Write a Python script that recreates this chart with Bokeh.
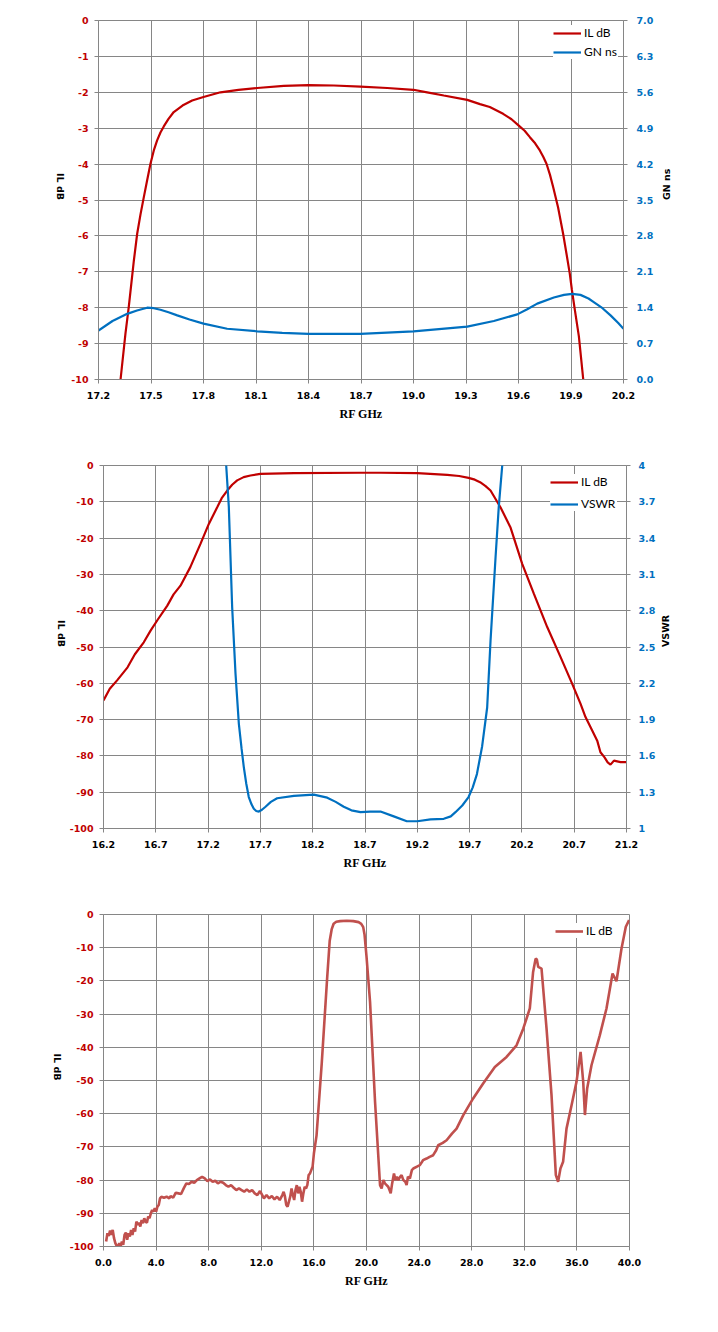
import math
from bokeh.plotting import figure
from bokeh.models import Range1d, LinearAxis, FixedTicker, NumeralTickFormatter
from bokeh.embed import file_html
from bokeh.resources import INLINE

GRID = "#868686"
RED = "#C00000"
BLUE = "#0070C0"
RED3 = "#C0504D"

# ---------------- Chart 1 data (IL dB and group delay) ----------------
c1_x_ticks = [17.2, 17.5, 17.8, 18.1, 18.4, 18.7, 19.0, 19.3, 19.6, 19.9, 20.2]
c1_left_ticks = [0, -1, -2, -3, -4, -5, -6, -7, -8, -9, -10]
c1_right_ticks = [0.0, 0.7, 1.4, 2.1, 2.8, 3.5, 4.2, 4.9, 5.6, 6.3, 7.0]

c1_il_f = [17.31, 17.326, 17.354, 17.373, 17.402, 17.421, 17.44, 17.459, 17.478, 17.497,
           17.516, 17.535, 17.554, 17.573, 17.60, 17.63, 17.68, 17.735, 17.80, 17.897,
           18.0, 18.107, 18.259, 18.40, 18.545, 18.697, 18.85, 19.0, 19.078, 19.173,
           19.307, 19.38, 19.436, 19.512, 19.56, 19.60, 19.635, 19.665, 19.695, 19.722,
           19.742, 19.76, 19.78, 19.798, 19.826, 19.855, 19.874, 19.893, 19.905, 19.92,
           19.945, 19.97, 19.985]
c1_il = [-10.6, -10.0, -8.72, -7.98, -6.69, -5.94, -5.40, -4.92, -4.45, -3.99,
         -3.62, -3.34, -3.12, -2.95, -2.74, -2.55, -2.37, -2.23, -2.13, -2.00,
         -1.93, -1.88, -1.82, -1.80, -1.81, -1.84, -1.88, -1.93, -2.00, -2.09,
         -2.21, -2.33, -2.41, -2.60, -2.75, -2.92, -3.07, -3.25, -3.42, -3.62,
         -3.80, -3.99, -4.30, -4.64, -5.20, -5.94, -6.49, -7.05, -7.50, -8.00,
         -8.80, -10.0, -10.6]

c1_gd_f = [17.2, 17.28, 17.364, 17.42, 17.478, 17.516, 17.554, 17.60, 17.65, 17.72,
           17.80, 17.935, 18.107, 18.25, 18.40, 18.697, 19.0, 19.307, 19.459, 19.593,
           19.65, 19.707, 19.802, 19.86, 19.907, 19.954, 20.0, 20.03, 20.08, 20.126,
           20.17, 20.2]
c1_gd = [0.955, 1.14, 1.28, 1.345, 1.40, 1.39, 1.36, 1.31, 1.25, 1.17,
         1.09, 0.99, 0.94, 0.91, 0.89, 0.89, 0.94, 1.03, 1.14, 1.27,
         1.37, 1.48, 1.60, 1.65, 1.67, 1.65, 1.58, 1.51, 1.39, 1.25,
         1.10, 0.99]

# ---------------- Chart 2 data (IL dB and VSWR) ----------------
c2_x_ticks = [16.2, 16.7, 17.2, 17.7, 18.2, 18.7, 19.2, 19.7, 20.2, 20.7, 21.2]
c2_left_ticks = [0, -10, -20, -30, -40, -50, -60, -70, -80, -90, -100]
c2_right_ticks = [1.0, 1.3, 1.6, 1.9, 2.2, 2.5, 2.8, 3.1, 3.4, 3.7, 4.0]

c2_il_f = [16.2, 16.26, 16.33, 16.43, 16.50, 16.585, 16.65, 16.713, 16.81, 16.87,
           16.936, 17.03, 17.127, 17.207, 17.287, 17.33, 17.383, 17.43, 17.478, 17.54,
           17.605, 17.70, 18.02, 18.657, 18.85, 19.20, 19.486, 19.60, 19.69, 19.75,
           19.80, 19.85, 19.90, 19.995, 20.09, 20.203, 20.314, 20.442, 20.57, 20.68,
           20.76, 20.808, 20.872, 20.92, 20.951, 20.99, 21.02, 21.047, 21.08, 21.143,
           21.2]
c2_il = [-64.7, -61.5, -59.2, -55.6, -52.0, -48.7, -45.5, -42.7, -38.6, -35.5,
         -33.1, -28.0, -21.6, -16.1, -11.5, -9.0, -6.9, -5.3, -4.1, -3.2,
         -2.75, -2.3, -2.1, -2.0, -2.0, -2.1, -2.57, -2.9, -3.4, -3.9,
         -4.6, -5.6, -6.9, -11.5, -17.0, -27.1, -35.3, -44.5, -52.8, -60.1,
         -65.6, -69.3, -73.0, -75.8, -79.0, -80.4, -81.8, -82.4, -81.3, -81.7,
         -81.7]

c2_vs_f = [17.366, 17.373, 17.398, 17.43, 17.462, 17.494, 17.52, 17.541, 17.565, 17.589,
           17.615, 17.637, 17.66, 17.685, 17.715, 17.749, 17.80, 17.86, 18.02, 18.21,
           18.339, 18.42, 18.497, 18.57, 18.657, 18.75, 18.848, 18.975, 19.10, 19.20,
           19.326, 19.453, 19.52, 19.565, 19.63, 19.69, 19.73, 19.77, 19.82, 19.868,
           19.90, 19.948, 19.979, 20.012, 20.02]
c2_vs = [4.25, 4.0, 3.66, 2.83, 2.28, 1.865, 1.66, 1.51, 1.37, 1.26,
         1.20, 1.163, 1.145, 1.14, 1.155, 1.18, 1.22, 1.25, 1.27, 1.28,
         1.255, 1.22, 1.18, 1.15, 1.135, 1.14, 1.14, 1.10, 1.06, 1.06,
         1.075, 1.08, 1.10, 1.135, 1.19, 1.26, 1.34, 1.45, 1.68, 2.0,
         2.55, 3.24, 3.66, 4.0, 4.25]

# ---------------- Chart 3 data (wideband IL dB) ----------------
c3_x_ticks = [0.0, 4.0, 8.0, 12.0, 16.0, 20.0, 24.0, 28.0, 32.0, 36.0, 40.0]
c3_left_ticks = [0, -10, -20, -30, -40, -50, -60, -70, -80, -90, -100]

c3_f = [0.20, 0.30, 0.40, 0.50, 0.60, 0.70, 0.80, 0.90, 1.00, 1.10,
        1.20, 1.30, 1.40, 1.50, 1.60, 1.70, 1.80, 1.90, 2.00, 2.10,
        2.20, 2.30, 2.40, 2.50, 2.60, 2.70, 2.80, 2.90, 3.00, 3.10,
        3.20, 3.30, 3.40, 3.50, 3.60, 3.70, 3.80, 3.90, 4.00, 4.10,
        4.20, 4.30, 4.40, 4.60, 4.80, 5.00, 5.10, 5.30, 5.50, 5.70,
        5.90, 6.10, 6.30, 6.50, 6.70, 6.90, 7.10, 7.30, 7.50, 7.70,
        7.90, 8.10, 8.30, 8.50, 8.70, 8.90, 9.10, 9.30, 9.50, 9.70,
        9.90, 10.10, 10.30, 10.50, 10.70, 10.90, 11.10, 11.30, 11.50, 11.70,
        11.90, 12.00, 12.20, 12.40, 12.60, 12.80, 13.00, 13.20, 13.40, 13.60,
        13.70, 13.80, 13.90, 14.00, 14.10, 14.20, 14.30, 14.40, 14.50, 14.60,
        14.70, 14.80, 14.90, 15.00, 15.10, 15.20, 15.30, 15.40, 15.50, 15.60,
        15.70, 15.80, 15.90, 16.00, 16.20, 16.60, 17.00, 17.20, 17.35, 17.50,
        17.70, 18.00, 18.50, 19.00, 19.40, 19.60, 19.75, 19.85, 20.00, 20.27,
        20.65, 21.03, 21.15, 21.28, 21.40, 21.53, 21.65, 21.75, 21.84, 21.95,
        22.09, 22.20, 22.30, 22.42, 22.55, 22.67, 22.80, 22.95, 23.05, 23.15,
        23.30, 23.45, 23.56, 23.80, 24.06, 24.30, 24.57, 24.80, 25.07, 25.30,
        25.45, 25.80, 26.09, 26.50, 26.85, 27.35, 28.11, 28.87, 29.76, 30.65,
        31.41, 31.92, 32.42, 32.67, 32.86, 32.95, 33.06, 33.31, 33.69, 34.07,
        34.40, 34.57, 34.75, 34.95, 35.21, 35.59, 35.97, 36.28, 36.48, 36.61,
        36.78, 37.11, 37.74, 38.25, 38.71, 39.01, 39.39, 39.72, 39.97]
c3_il = [-98.5, -96.0, -96.8, -95.2, -96.5, -95.0, -97.5, -99.0, -99.8, -100.0,
         -99.0, -100.0, -98.5, -99.5, -96.5, -95.8, -98.0, -96.0, -97.0, -95.0,
         -96.5, -94.5, -95.5, -92.5, -93.5, -92.8, -94.0, -92.0, -93.0, -91.5,
         -92.5, -92.8, -91.0, -91.5, -90.0, -89.0, -89.5, -88.5, -89.5, -88.0,
         -87.5, -85.5, -85.0, -85.3, -85.0, -85.5, -84.8, -85.3, -83.8, -84.0,
         -84.2, -82.5, -81.0, -81.2, -80.5, -80.8, -80.0, -79.5, -79.0, -79.5,
         -80.3, -79.8, -80.5, -80.2, -81.0, -80.5, -80.8, -81.5, -82.0, -81.5,
         -82.3, -83.0, -82.5, -83.0, -83.5, -82.8, -83.5, -83.0, -84.0, -84.5,
         -83.3, -84.0, -85.5, -84.5, -85.5, -84.8, -85.8, -85.0, -86.0, -84.5,
         -83.5, -85.0, -87.5, -88.0, -86.5, -85.0, -82.5, -84.5, -86.0, -83.0,
         -81.5, -84.0, -82.0, -83.5, -86.5, -84.0, -82.0, -82.5, -81.5, -78.5,
         -78.0, -77.0, -76.0, -72.0, -66.6, -44.6, -19.6, -8.0, -4.5, -2.8,
         -2.2, -2.0, -1.9, -2.0, -2.3, -2.8, -3.8, -6.0, -12.6, -26.3,
         -56.4, -81.5, -82.5, -80.0, -81.0, -81.5, -82.0, -83.0, -84.0, -81.0,
         -78.0, -80.0, -79.0, -80.0, -79.0, -78.5, -80.0, -80.5, -81.5, -79.0,
         -79.5, -77.0, -76.5, -76.0, -75.5, -74.0, -73.5, -73.0, -72.5, -71.0,
         -69.5, -68.8, -68.0, -66.0, -64.5, -60.5, -55.4, -50.9, -45.9, -42.9,
         -39.4, -34.4, -28.3, -17.3, -13.3, -13.5, -15.8, -16.3, -34.3, -54.4,
         -78.5, -80.5, -76.5, -74.5, -64.5, -57.5, -50.4, -41.4, -50.4, -60.4,
         -52.4, -45.4, -36.4, -28.3, -17.8, -20.1, -10.3, -3.7, -1.7]

TICK_FONT = "DejaVu Sans"
TICK_SIZE = "9.5px"
FIG_W = 710


def style_axis(ax, color, standoff=7):
    ax.axis_line_color = GRID
    ax.major_tick_line_color = GRID
    ax.major_tick_out = 4
    ax.major_tick_in = 0
    ax.minor_tick_line_color = None
    ax.major_label_text_font = TICK_FONT
    ax.major_label_text_font_size = TICK_SIZE
    ax.major_label_text_font_style = "bold"
    ax.major_label_text_color = color
    ax.major_label_standoff = standoff
    ax.axis_label_text_font = "DejaVu Sans"
    ax.axis_label_text_font_size = "9.5px"
    ax.axis_label_text_font_style = "bold"
    ax.axis_label_text_color = "black"


def make_fig(height, xr, yr, borders, x_ticks, y_ticks, xfmt, y_title, y_std, x_std):
    left, right, top, bottom = borders
    p = figure(width=FIG_W, height=height, x_range=Range1d(*xr), y_range=Range1d(*yr),
               output_backend="svg", toolbar_location=None,
               min_border_left=left, min_border_right=right,
               min_border_top=top, min_border_bottom=bottom)
    p.outline_line_color = GRID
    p.outline_line_width = 1
    p.xgrid.grid_line_color = GRID
    p.ygrid.grid_line_color = GRID
    p.xgrid.grid_line_width = 1
    p.ygrid.grid_line_width = 1
    xa = p.xaxis[0]
    ya = p.yaxis[0]
    xa.ticker = FixedTicker(ticks=x_ticks)
    ya.ticker = FixedTicker(ticks=y_ticks)
    xa.formatter = NumeralTickFormatter(format=xfmt)
    ya.formatter = NumeralTickFormatter(format="0")
    style_axis(xa, "black", standoff=8)
    style_axis(ya, RED, standoff=6)
    xa.axis_label = "RF GHz"
    xa.axis_label_text_font = "Liberation Serif"
    xa.axis_label_text_font_size = "12px"
    xa.axis_label_standoff = x_std
    ya.axis_label = y_title
    ya.axis_label_standoff = y_std
    ya.axis_label_orientation = -math.pi / 2
    return p


def style_legend(p, padding, margin, label_width, spacing):
    lg = p.legend[0]
    lg.location = "top_right"
    lg.margin = margin
    lg.padding = padding
    lg.spacing = spacing
    lg.glyph_width = 28
    lg.glyph_height = 14
    lg.label_height = 14
    lg.label_width = label_width
    lg.label_standoff = 3
    lg.label_text_font = "Lato"
    lg.label_text_font_size = "12px"
    lg.label_text_color = "black"
    lg.border_line_color = None
    lg.background_fill_color = "white"
    lg.background_fill_alpha = 1.0


# ---------- Figure 1 ----------
p1 = make_fig(440, (17.2, 20.2), (-10, 0), (98, FIG_W - 623, 20, 61),
              c1_x_ticks, c1_left_ticks, "0.0", "IL dB", 8, 5)
p1.extra_y_ranges = {"gd": Range1d(0, 7)}
ax1r = LinearAxis(y_range_name="gd", ticker=FixedTicker(ticks=c1_right_ticks),
                  formatter=NumeralTickFormatter(format="0.0"))
style_axis(ax1r, BLUE, standoff=9)
ax1r.axis_label = "GN ns"
ax1r.axis_label_standoff = 10
ax1r.axis_label_orientation = math.pi / 2
p1.add_layout(ax1r, "right")
p1.line(c1_il_f, c1_il, color=RED, line_width=2.2, legend_label="IL dB")
p1.line(c1_gd_f, c1_gd, color=BLUE, line_width=2.2, y_range_name="gd", legend_label="GN ns")
style_legend(p1, 5, 5, 34, 4)

# ---------- Figure 2 ----------
p2 = make_fig(450, (16.2, 21.2), (-100, 0), (103, FIG_W - 626, 25, 62),
              c2_x_ticks, c2_left_ticks, "0.0", "IL dB", 5, 5)
p2.extra_y_ranges = {"vswr": Range1d(1, 4)}
ax2r = LinearAxis(y_range_name="vswr", ticker=FixedTicker(ticks=c2_right_ticks),
                  formatter=NumeralTickFormatter(format="0.[0]"))
style_axis(ax2r, BLUE, standoff=8)
ax2r.axis_label = "VSWR"
ax2r.axis_label_standoff = 7
ax2r.axis_label_orientation = math.pi / 2
p2.add_layout(ax2r, "right")
p2.line(c2_il_f, c2_il, color=RED, line_width=2.2, legend_label="IL dB")
p2.line(c2_vs_f, c2_vs, color=BLUE, line_width=2.2, y_range_name="vswr", legend_label="VSWR")
style_legend(p2, 8, 9, 36, 7)

# ---------- Figure 3 ----------
p3 = make_fig(420, (0, 40), (-100, 0), (103, FIG_W - 629, 24, 64),
              c3_x_ticks, c3_left_ticks, "0.0", "IL dB", 9, 5)
p3.line(c3_f, c3_il, color=RED3, line_width=2.6, legend_label="IL dB")
style_legend(p3, 10, 9, 34, 4)

open("out.html", "w").write(file_html([p1, p2, p3], INLINE))
